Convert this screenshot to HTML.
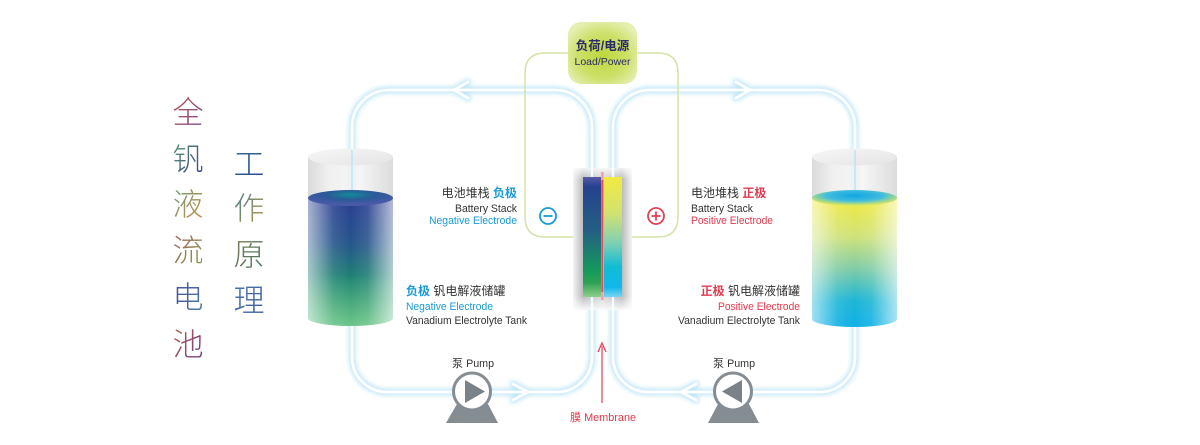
<!DOCTYPE html>
<html><head><meta charset="utf-8"><style>
html,body{margin:0;padding:0;background:#fff;}
svg{display:block;}
.t{font-family:"Liberation Sans","Noto Sans CJK SC",sans-serif;}
.cjk{font-family:"Noto Sans CJK SC","WenQuanYi Zen Hei",sans-serif;}
</style></head><body>
<svg width="1200" height="445" viewBox="0 0 1200 445" xmlns="http://www.w3.org/2000/svg">
<defs>
  <filter id="blur" x="-10%" y="-10%" width="120%" height="120%"><feGaussianBlur stdDeviation="2"/></filter>
  <radialGradient id="loadg" cx="50%" cy="55%" r="60%">
    <stop offset="0" stop-color="#bdd83a"/><stop offset="0.6" stop-color="#cde06a"/><stop offset="1" stop-color="#e6efb2"/>
  </radialGradient>
  <linearGradient id="glass" x1="0" x2="1" y1="0" y2="0">
    <stop offset="0" stop-color="#d4d4d4"/><stop offset="0.25" stop-color="#eeeeee"/><stop offset="0.6" stop-color="#f4f4f4"/><stop offset="1" stop-color="#d6d6d6"/>
  </linearGradient>
  <linearGradient id="glasstop" x1="0" x2="1" y1="0" y2="1">
    <stop offset="0" stop-color="#f7f7f7"/><stop offset="1" stop-color="#e4e4e4"/>
  </linearGradient>
  <linearGradient id="liqL" x1="0" x2="0" y1="0" y2="1">
    <stop offset="0" stop-color="#2b3d92"/><stop offset="0.35" stop-color="#26558c"/><stop offset="0.65" stop-color="#1d8670"/><stop offset="1" stop-color="#1ea64a"/>
  </linearGradient>
  <linearGradient id="liqR" x1="0" x2="0" y1="0" y2="1">
    <stop offset="0" stop-color="#f2ea3c"/><stop offset="0.3" stop-color="#cfe27a"/><stop offset="0.55" stop-color="#7fcca6"/><stop offset="0.8" stop-color="#1cb6d6"/><stop offset="1" stop-color="#0eb0e6"/>
  </linearGradient>
  <linearGradient id="edgeL" x1="0" x2="1" y1="0" y2="0">
    <stop offset="0" stop-color="#ffffff" stop-opacity="0.6"/><stop offset="0.3" stop-color="#ffffff" stop-opacity="0.1"/><stop offset="0.5" stop-color="#ffffff" stop-opacity="0"/><stop offset="0.7" stop-color="#ffffff" stop-opacity="0.1"/><stop offset="1" stop-color="#ffffff" stop-opacity="0.65"/>
  </linearGradient>
  <linearGradient id="fadeB" x1="0" x2="0" y1="0" y2="1">
    <stop offset="0" stop-color="#ffffff" stop-opacity="0"/><stop offset="0.6" stop-color="#ffffff" stop-opacity="0"/><stop offset="1" stop-color="#ffffff" stop-opacity="0.35"/>
  </linearGradient>
  <radialGradient id="topL" cx="50%" cy="30%" r="60%">
    <stop offset="0" stop-color="#128a9a"/><stop offset="0.5" stop-color="#2a5a98"/><stop offset="1" stop-color="#4a5aa8"/>
  </radialGradient>
  <radialGradient id="topR" cx="50%" cy="35%" r="60%">
    <stop offset="0" stop-color="#10a6e0"/><stop offset="0.55" stop-color="#40bce0"/><stop offset="1" stop-color="#d8e860"/>
  </radialGradient>
  <linearGradient id="frame" x1="0" x2="1" y1="0" y2="0">
    <stop offset="0" stop-color="#f4f4f4"/><stop offset="0.17" stop-color="#b9bbbd"/><stop offset="0.5" stop-color="#d8d8d8"/><stop offset="0.83" stop-color="#b9bbbd"/><stop offset="1" stop-color="#f4f4f4"/>
  </linearGradient>
  <linearGradient id="frameV" x1="0" x2="0" y1="0" y2="1">
    <stop offset="0" stop-color="#ffffff" stop-opacity="0.8"/><stop offset="0.08" stop-color="#ffffff" stop-opacity="0"/><stop offset="0.9" stop-color="#ffffff" stop-opacity="0"/><stop offset="1" stop-color="#ffffff" stop-opacity="0.9"/>
  </linearGradient>
  <linearGradient id="elN" x1="0" x2="0" y1="0" y2="1">
    <stop offset="0" stop-color="#5a5aa6"/><stop offset="0.08" stop-color="#26418e"/><stop offset="0.45" stop-color="#245f82"/><stop offset="0.78" stop-color="#159a5c"/><stop offset="0.88" stop-color="#2ea055"/><stop offset="1" stop-color="#8fcf8a"/>
  </linearGradient>
  <linearGradient id="elP" x1="0" x2="0" y1="0" y2="1">
    <stop offset="0" stop-color="#f2ea40"/><stop offset="0.3" stop-color="#d2e270"/><stop offset="0.55" stop-color="#7fd0b4"/><stop offset="0.75" stop-color="#10bcd4"/><stop offset="0.92" stop-color="#12b8ea"/><stop offset="1" stop-color="#7ad4f2"/>
  </linearGradient>
  <linearGradient id="c1" x1="0" x2="1" y1="0" y2="1"><stop offset="0" stop-color="#c05a40"/><stop offset="1" stop-color="#7a4a9a"/></linearGradient>
  <linearGradient id="c2" x1="0" x2="1" y1="0" y2="1"><stop offset="0" stop-color="#5aa070"/><stop offset="1" stop-color="#3a3a8a"/></linearGradient>
  <linearGradient id="c3" x1="0" x2="1" y1="0" y2="1"><stop offset="0" stop-color="#60a080"/><stop offset="1" stop-color="#d08a40"/></linearGradient>
  <linearGradient id="c4" x1="0" x2="1" y1="0" y2="1"><stop offset="0" stop-color="#a05a6a"/><stop offset="1" stop-color="#8aa040"/></linearGradient>
  <linearGradient id="c5" x1="0" x2="1" y1="0" y2="1"><stop offset="0" stop-color="#4a4a9a"/><stop offset="1" stop-color="#4a80a0"/></linearGradient>
  <linearGradient id="c6" x1="0" x2="1" y1="0" y2="1"><stop offset="0" stop-color="#c06040"/><stop offset="1" stop-color="#6a3a8a"/></linearGradient>
  <linearGradient id="c7" x1="0" x2="1" y1="0" y2="1"><stop offset="0" stop-color="#3a6a9a"/><stop offset="1" stop-color="#2a4a8a"/></linearGradient>
  <linearGradient id="c8" x1="0" x2="1" y1="0" y2="1"><stop offset="0" stop-color="#3a7a9a"/><stop offset="1" stop-color="#c0a040"/></linearGradient>
  <linearGradient id="c9" x1="0" x2="1" y1="0" y2="1"><stop offset="0" stop-color="#8a7a50"/><stop offset="1" stop-color="#3a7a6a"/></linearGradient>
  <linearGradient id="c10" x1="0" x2="1" y1="0" y2="1"><stop offset="0" stop-color="#4a7ab0"/><stop offset="1" stop-color="#3a5a9a"/></linearGradient>
</defs>

<!-- title -->
<g class="cjk" font-size="31" font-weight="300" text-anchor="middle" dominant-baseline="central">
  <text x="188" y="110" fill="url(#c1)">全</text>
  <text x="188" y="157" fill="url(#c2)">钒</text>
  <text x="188" y="202" fill="url(#c3)">液</text>
  <text x="188" y="248" fill="url(#c4)">流</text>
  <text x="188" y="295" fill="url(#c5)">电</text>
  <text x="188" y="342" fill="url(#c6)">池</text>
  <text x="249" y="162" fill="url(#c7)">工</text>
  <text x="249" y="206" fill="url(#c8)">作</text>
  <text x="249" y="252" fill="url(#c9)">原</text>
  <text x="249" y="298" fill="url(#c10)">理</text>
</g>

<!-- pipes -->
<g fill="none" stroke-linecap="round" stroke-linejoin="round">
  <g stroke="#b8e3f6" stroke-width="7" filter="url(#blur)" opacity="0.85">
    <path d="M389 90 H555 A37 37 0 0 1 592 127 V357 A35 35 0 0 1 557 392 H387 A35 35 0 0 1 352 357 V127 A37 37 0 0 1 389 90 Z"/>
    <path d="M650 90 H818 A37 37 0 0 1 855 127 V357 A35 35 0 0 1 820 392 H648 A35 35 0 0 1 613 357 V127 A37 37 0 0 1 650 90 Z"/>
    <path d="M468 82 L454 90 L468 98"/>
    <path d="M736 82 L750 90 L736 98"/>
    <path d="M513 384 L528 392 L513 400"/>
    <path d="M696 384 L681 392 L696 400"/>
  </g>
  <g stroke="#ffffff" stroke-width="2.8">
    <path d="M389 90 H555 A37 37 0 0 1 592 127 V357 A35 35 0 0 1 557 392 H387 A35 35 0 0 1 352 357 V127 A37 37 0 0 1 389 90 Z"/>
    <path d="M650 90 H818 A37 37 0 0 1 855 127 V357 A35 35 0 0 1 820 392 H648 A35 35 0 0 1 613 357 V127 A37 37 0 0 1 650 90 Z"/>
    <path d="M468 82 L454 90 L468 98"/>
    <path d="M736 82 L750 90 L736 98"/>
    <path d="M513 384 L528 392 L513 400"/>
    <path d="M696 384 L681 392 L696 400"/>
  </g>
</g>

<!-- load wire -->
<g fill="none" stroke="#d3e4a6" stroke-width="1.5">
  <path d="M570 53 H545 Q525 53 525 73 V217 Q525 237 545 237 H575"/>
  <path d="M635 53 H658 Q678 53 678 73 V217 Q678 237 658 237 H630"/>
</g>

<!-- load box -->
<rect x="568" y="22" width="69" height="62" rx="13" fill="url(#loadg)"/>
<text class="t" x="602.5" y="50" font-size="12.5" font-weight="bold" fill="#2b2a6a" text-anchor="middle">负荷/电源</text>
<text class="t" x="602.5" y="65" font-size="10.5" fill="#2b2a6a" text-anchor="middle" textLength="56" lengthAdjust="spacingAndGlyphs">Load/Power</text>

<!-- stack -->
<rect x="573" y="168" width="59" height="142" fill="url(#frame)"/>
<g stroke="#b8e3f6" stroke-width="3" opacity="0.8">
  <line x1="592" y1="168" x2="592" y2="310"/><line x1="613" y1="168" x2="613" y2="310"/>
</g>
<g stroke="#ffffff" stroke-width="1.6">
  <line x1="592" y1="168" x2="592" y2="310"/><line x1="613" y1="168" x2="613" y2="310"/>
</g>
<rect x="573" y="168" width="59" height="142" fill="url(#frameV)"/>
<rect x="583" y="177" width="18" height="120" fill="url(#elN)"/>
<rect x="604" y="177" width="18" height="120" fill="url(#elP)"/>
<rect x="601.2" y="172" width="2.2" height="128" fill="#ec4a5a"/>
<rect x="601" y="172" width="3" height="8" fill="#f4c0c4" opacity="0.7"/>
<rect x="601" y="292" width="3" height="8" fill="#f4c0c4" opacity="0.7"/>

<!-- +/- -->
<g fill="none" stroke-width="1.8">
  <circle cx="548" cy="216" r="8" stroke="#1a9ad6"/>
  <line x1="543.5" y1="216" x2="552.5" y2="216" stroke="#1a9ad6"/>
  <circle cx="656" cy="216" r="8" stroke="#e24455"/>
  <line x1="651.5" y1="216" x2="660.5" y2="216" stroke="#e24455"/>
  <line x1="656" y1="211.5" x2="656" y2="220.5" stroke="#e24455"/>
</g>

<!-- left tank -->
<g>
  <path d="M308 157 V198 A42.5 8 0 0 0 393 198 V157 Z" fill="url(#glass)" opacity="0.85"/>
  <ellipse cx="350.5" cy="157" rx="42.5" ry="8.5" fill="url(#glasstop)"/>
  <path d="M308 198 V318 A42.5 8 0 0 0 393 318 V198 Z" fill="url(#liqL)"/>
  <path d="M308 198 V318 A42.5 8 0 0 0 393 318 V198 Z" fill="url(#edgeL)"/>
  <path d="M308 198 V318 A42.5 8 0 0 0 393 318 V198 Z" fill="url(#fadeB)"/>
  <ellipse cx="350.5" cy="198" rx="42.5" ry="8" fill="url(#topL)"/>
</g>
<g stroke="#bfe5f7" stroke-width="2" opacity="0.8"><line x1="352" y1="150" x2="352" y2="190"/></g>

<!-- right tank -->
<g>
  <path d="M812 157 V198 A42.5 8 0 0 0 897 198 V157 Z" fill="url(#glass)" opacity="0.85"/>
  <ellipse cx="854.5" cy="157" rx="42.5" ry="8.5" fill="url(#glasstop)"/>
  <path d="M812 198 V319 A42.5 8 0 0 0 897 319 V198 Z" fill="url(#liqR)"/>
  <path d="M812 198 V319 A42.5 8 0 0 0 897 319 V198 Z" fill="url(#edgeL)"/>
  <ellipse cx="854.5" cy="198" rx="42.5" ry="8" fill="url(#topR)"/>
</g>
<g stroke="#bfe5f7" stroke-width="2" opacity="0.8"><line x1="855" y1="150" x2="855" y2="190"/></g>

<!-- labels -->
<g class="t">
  <text x="517" y="197" font-size="12" fill="#333" text-anchor="end">电池堆栈 <tspan fill="#1a9ad6" font-weight="bold">负极</tspan></text>
  <text x="455" y="212" font-size="11" fill="#333" textLength="62" lengthAdjust="spacingAndGlyphs">Battery Stack</text>
  <text x="429" y="224" font-size="11" fill="#1a9ad6" textLength="88" lengthAdjust="spacingAndGlyphs">Negative Electrode</text>

  <text x="406" y="295" font-size="12" fill="#333"><tspan fill="#1a9ad6" font-weight="bold">负极</tspan> 钒电解液储罐</text>
  <text x="406" y="310" font-size="11" fill="#1a9ad6" textLength="87" lengthAdjust="spacingAndGlyphs">Negative Electrode</text>
  <text x="406" y="324" font-size="11" fill="#333" textLength="121" lengthAdjust="spacingAndGlyphs">Vanadium Electrolyte Tank</text>

  <text x="691" y="197" font-size="12" fill="#333">电池堆栈 <tspan fill="#e23a4e" font-weight="bold">正极</tspan></text>
  <text x="691" y="212" font-size="11" fill="#333" textLength="62" lengthAdjust="spacingAndGlyphs">Battery Stack</text>
  <text x="691" y="224" font-size="11" fill="#e23a4e" textLength="82" lengthAdjust="spacingAndGlyphs">Positive Electrode</text>

  <text x="800" y="295" font-size="12" fill="#333" text-anchor="end"><tspan fill="#e23a4e" font-weight="bold">正极</tspan> 钒电解液储罐</text>
  <text x="718" y="310" font-size="11" fill="#e23a4e" textLength="82" lengthAdjust="spacingAndGlyphs">Positive Electrode</text>
  <text x="678" y="324" font-size="11" fill="#333" textLength="122" lengthAdjust="spacingAndGlyphs">Vanadium Electrolyte Tank</text>

  <text x="452" y="367" font-size="11" fill="#333">泵 <tspan textLength="28" lengthAdjust="spacingAndGlyphs">Pump</tspan></text>
  <text x="713" y="367" font-size="11" fill="#333">泵 <tspan textLength="28" lengthAdjust="spacingAndGlyphs">Pump</tspan></text>

  <text x="570" y="421" font-size="11" fill="#e23a4e">膜 <tspan textLength="52" lengthAdjust="spacingAndGlyphs">Membrane</tspan></text>
</g>

<!-- membrane arrow -->
<line x1="602" y1="346" x2="602" y2="403" stroke="#e23a4e" stroke-width="1.2"/>
<path d="M598 352 L602 343 L606 352" fill="none" stroke="#e23a4e" stroke-width="1.2"/>

<!-- pumps -->
<g>
  <polygon points="457,404 488,404 498,423 446,423" fill="#858c92"/>
  <circle cx="472" cy="391.5" r="18.5" fill="#fff" stroke="#858c92" stroke-width="3"/>
  <polygon points="465,380 465,403 485,391.5" fill="#7a8288"/>
</g>
<g>
  <polygon points="718,404 749,404 759,423 708,423" fill="#858c92"/>
  <circle cx="733" cy="391.5" r="18.5" fill="#fff" stroke="#858c92" stroke-width="3"/>
  <polygon points="742,380 742,403 722,391.5" fill="#7a8288"/>
</g>
</svg>
</body></html>
